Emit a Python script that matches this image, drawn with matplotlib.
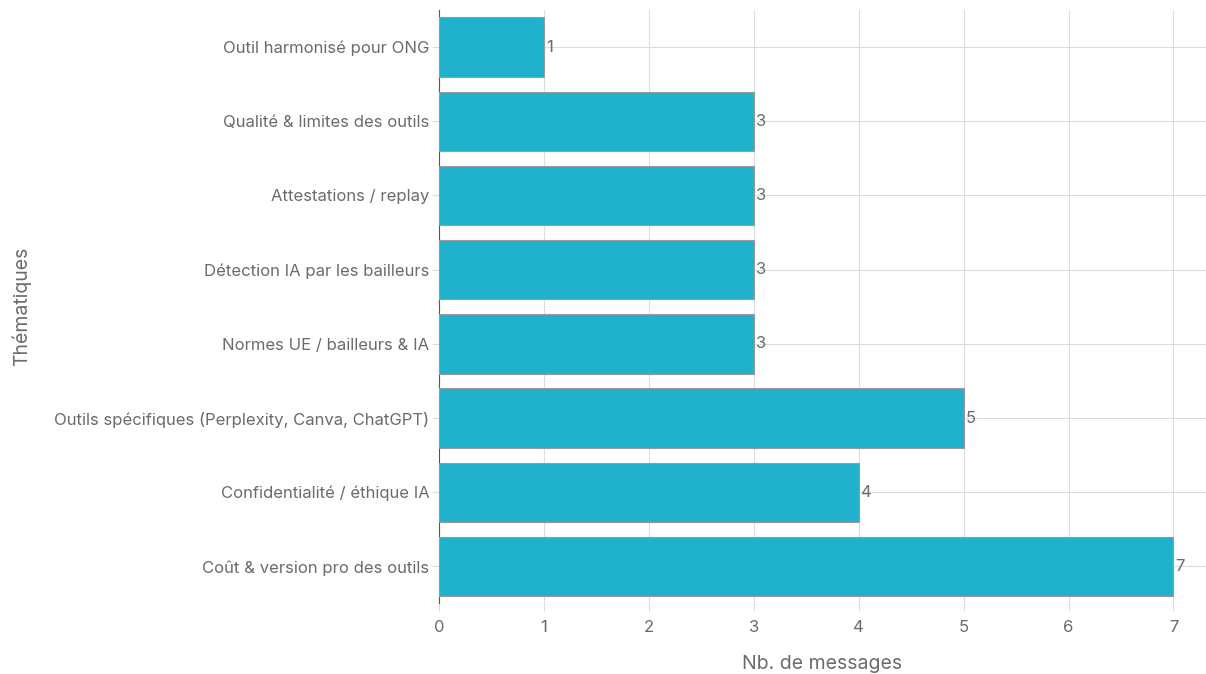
import matplotlib.pyplot as plt
import numpy as np

plt.rcParams['font.family'] = ['Inter', 'DejaVu Sans']

themes = [
    "Outil harmonisé pour ONG",
    "Qualité & limites des outils",
    "Attestations / replay",
    "Détection IA par les bailleurs",
    "Normes UE / bailleurs & IA",
    "Outils spécifiques (Perplexity, Canva, ChatGPT)",
    "Confidentialité / éthique IA",
    "Coût & version pro des outils",
]
messages = [1, 3, 3, 3, 3, 5, 4, 7]

grey = '#6b6b6b'
fig = plt.figure(figsize=(12.06, 6.74), dpi=100)
ax = fig.add_axes([0.364, 0.1046, 0.636, 0.8806])

y_pos = np.arange(len(themes))
ax.barh(y_pos, messages, height=0.8, color='#20B2CC', edgecolor='#9a9a9a', linewidth=0.8, zorder=3)
ax.set_yticks(y_pos)
ax.set_yticklabels(themes)
ax.set_ylim(len(themes) - 0.5, -0.5)
ax.set_xlim(0, 7.31)
ax.set_xticks(range(8))

for y, v in zip(y_pos, messages):
    ax.text(v + 0.02, y, str(v), va='center', ha='left', fontsize=12, color=grey, zorder=4)

ax.grid(True, color='#dddddd', linewidth=0.8, zorder=0)
for s in ['top', 'right', 'bottom']:
    ax.spines[s].set_visible(False)
ax.spines['left'].set_color('#555555')
ax.tick_params(axis='y', length=5, color='#dddddd', labelsize=12, labelcolor=grey, pad=2)
ax.tick_params(axis='x', length=6, color='#dddddd', labelsize=12, labelcolor=grey, pad=6)

ax.set_xlabel('Nb. de messages', fontsize=14, color=grey, labelpad=14)
ax.set_ylabel('Thématiques', fontsize=14, color=grey, labelpad=0)
ax.yaxis.set_label_coords(-0.532, 0.5)

fig.savefig('out.png', dpi=100)
